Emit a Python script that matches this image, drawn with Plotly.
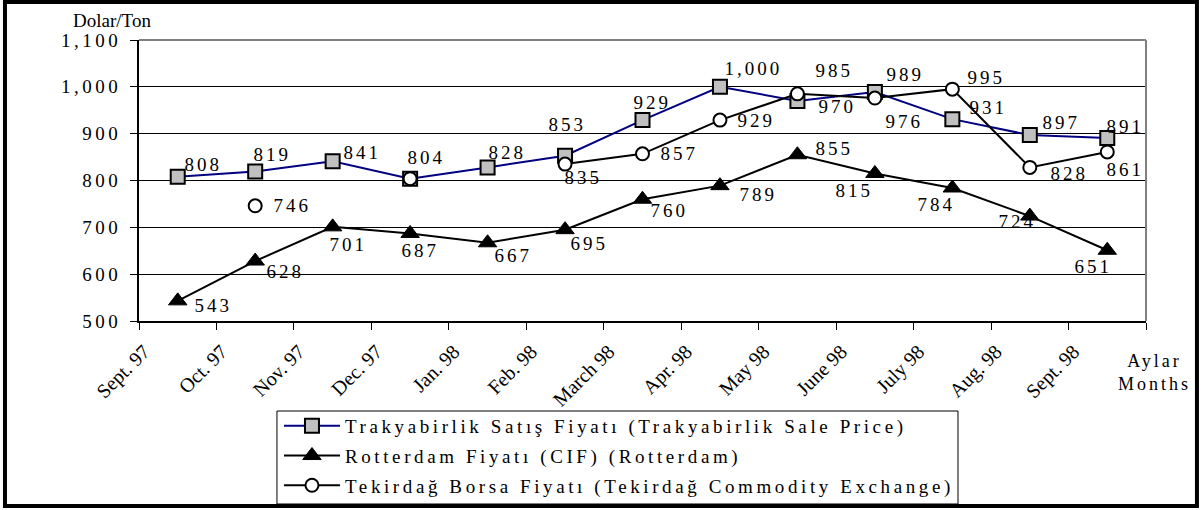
import plotly.graph_objects as go

# ---------------- data ----------------
months = ["Sept. 97", "Oct. 97", "Nov. 97", "Dec. 97", "Jan. 98", "Feb. 98",
          "March 98", "Apr. 98", "May 98", "June 98", "July 98", "Aug. 98", "Sept. 98"]
trakya = [808, 819, 841, 804, 828, 853, 929, 1000, 970, 989, 931, 897, 891]
rotterdam = [543, 628, 701, 687, 667, 695, 760, 789, 855, 815, 784, 724, 651]
tekirdag = [None, 746, None, 804, None, 835, 857, 929, 985, 976, 995, 828, 861]
y_ticks = [500, 600, 700, 800, 900, 1000, 1100]

series_names = [
    "Trakyabirlik Satış Fiyatı (Trakyabirlik Sale Price)",
    "Rotterdam Fiyatı (CIF) (Rotterdam)",
    "Tekirdağ Borsa Fiyatı (Tekirdağ Commodity Exchange)",
]

# ---------------- label placement (pixel offsets, style only) ----------------
trakya_off = [(26, 12), (17, 17), (30, 9), (16, 21), (20, 15), (2, 31), (10, 18),
              (34, 18), (40, -6), (31, 17), (36, 12), (32, 13), (18, 11)]
rotter_off = [(36, -5), (30, -10), (16, -18), (10, -17), (26, -13), (24, -14), (27, -11),
              (39, -9), (37, 6), (-20, -17), (-16, -17), (-12, -5), (-14, -16)]
tekir_off = [None, (37, 0), None, None, None, (18, -13), (37, 0), (37, 0),
             (37, 23), (30, -23), (34, 12), (40, -6), (18, -18)]

FONT = "Liberation Serif, Times New Roman, serif"

# category centres on a numeric axis; tick marks/labels at category boundaries
xs = [i + 0.5 for i in range(len(months))]
tick_pos = list(range(len(months) + 1))
tick_txt = months + [""]

fig = go.Figure()

fig.add_trace(go.Scatter(
    x=xs, y=trakya, name=series_names[0], mode="lines+markers", legendgroup="a",
    line=dict(color="#000080", width=2),
    marker=dict(symbol="square", size=14, color="#c0c0c0", line=dict(color="black", width=2)),
))
fig.add_trace(go.Scatter(
    x=xs, y=rotterdam, name=series_names[1], mode="lines+markers", legendgroup="b",
    line=dict(color="black", width=2),
    marker=dict(symbol="triangle-up", size=16, color="black", line=dict(color="black", width=1)),
))
fig.add_trace(go.Scatter(
    x=xs, y=tekirdag, name=series_names[2], mode="lines+markers", legendgroup="c",
    connectgaps=False,
    line=dict(color="black", width=2),
    marker=dict(symbol="circle", size=13, color="white", line=dict(color="black", width=2)),
))

annotations = []
for vals, offs in ((trakya, trakya_off), (rotterdam, rotter_off), (tekirdag, tekir_off)):
    for x, v, o in zip(xs, vals, offs):
        if v is None or o is None:
            continue
        annotations.append(dict(
            x=x, y=v, xref="x", yref="y", text=f"{v:,}", showarrow=False,
            xshift=o[0], yshift=o[1], xanchor="center", yanchor="middle",
            font=dict(family=FONT, size=19, color="black"),
        ))

annotations.append(dict(
    x=1.008, y=-0.1815, xref="paper", yref="paper", text="Aylar<br>Months",
    showarrow=False, xanchor="center", yanchor="middle",
    font=dict(family=FONT, size=18, color="black"),
))

shapes = [
    # outer frame
    dict(type="rect", xref="paper", yref="paper", x0=-0.1331, x1=1.0506, y0=-0.6584, y1=1.1352,
         line=dict(color="black", width=4)),
    # grey top/right border of plot area
    dict(type="line", xref="paper", yref="paper", x0=0, x1=1, y0=1, y1=1,
         line=dict(color="#808080", width=2), layer="above"),
    dict(type="line", xref="paper", yref="paper", x0=1, x1=1, y0=0, y1=1,
         line=dict(color="#808080", width=2), layer="above"),
    # legend box
    dict(type="rect", xref="paper", yref="paper", x0=0.1370, x1=0.8133, y0=-0.6512, y1=-0.3203,
         line=dict(color="black", width=1)),
]

fig.update_layout(
    width=1201, height=510,
    margin=dict(l=139, r=55, t=40, b=189, autoexpand=False),
    paper_bgcolor="white", plot_bgcolor="white",
    font=dict(family=FONT, color="black"),
    title=dict(text="Dolar/Ton", x=112 / 1201, xref="container", xanchor="center",
               y=1 - 20 / 510, yref="container", yanchor="middle",
               font=dict(family=FONT, size=19, color="black")),
    showlegend=True,
    legend=dict(x=0.139, y=-0.306, xanchor="left", yanchor="top",
                bgcolor="rgba(0,0,0,0)", borderwidth=0, itemwidth=56,
                tracegroupgap=2, traceorder="grouped",
                font=dict(family=FONT, size=19, color="black")),
    xaxis=dict(range=[0, 13], tickmode="array", tickvals=tick_pos, ticktext=tick_txt,
               tickangle=-45, ticks="outside", ticklen=7, tickcolor="black",
               ticklabelstandoff=2, ticklabelshift=5,
               showline=True, linecolor="black", linewidth=2, showgrid=False,
               zeroline=False, tickfont=dict(family=FONT, size=20, color="black"),
               fixedrange=True),
    yaxis=dict(range=[500, 1100], tickmode="array", tickvals=y_ticks,
               tickformat=",d", ticks="outside", ticklen=7, tickcolor="black",
               ticklabelstandoff=5,
               showline=True, linecolor="black", linewidth=2,
               showgrid=True, gridcolor="black", gridwidth=1, zeroline=False,
               tickfont=dict(family=FONT, size=19, color="black"), fixedrange=True),
    annotations=annotations,
    shapes=shapes,
)

css_js = """
var st = document.createElement('style');
st.textContent = 'body{margin:0;} .ytick text{letter-spacing:3.5px;} .legendtext{letter-spacing:3.6px;} .annotation-text{letter-spacing:3px;} .legend .scrollbox{clip-path:none !important;}';
document.head.appendChild(st);
"""

fig.write_html("out.html", post_script=css_js, config={"displayModeBar": False})
